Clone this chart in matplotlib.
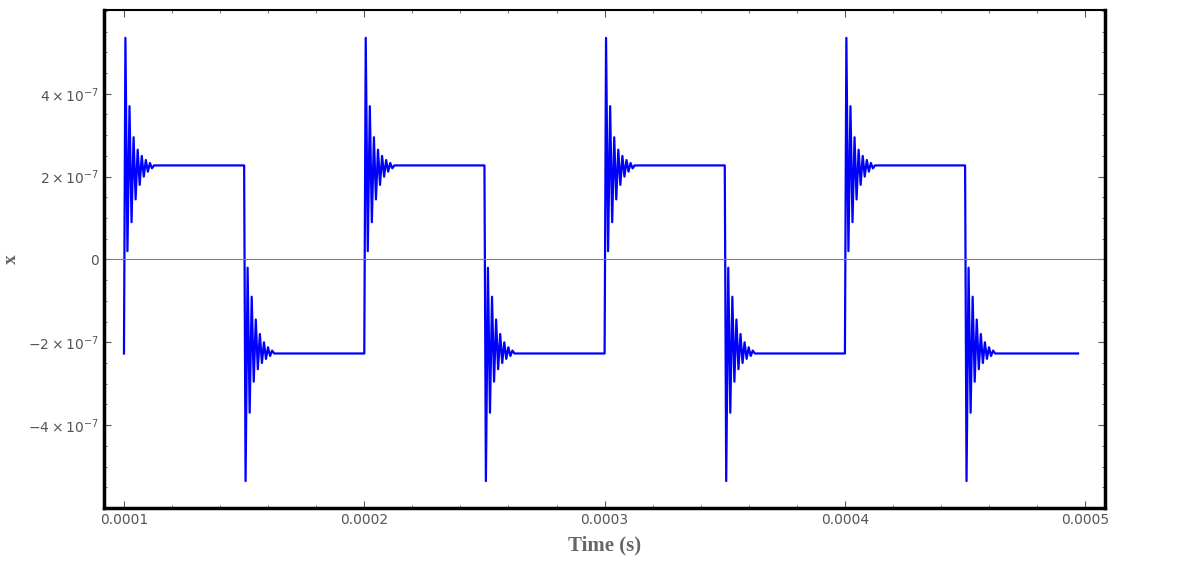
import numpy as np
import matplotlib.pyplot as plt
from matplotlib.ticker import FixedLocator, MultipleLocator

# switching instants (s) and steady level
up_times = [0.0001, 0.0002, 0.0003, 0.0004]
down_times = [0.00015, 0.00025, 0.00035, 0.00045]
level = 2.27e-7
t_end = 0.000497

# ringing peaks after an upward switch (units of 1e-7)
ring_peaks = [5.35, 0.2, 3.7, 0.9, 2.95, 1.45, 2.65, 1.8, 2.5, 2.0, 2.4, 2.12, 2.33, 2.2, 2.27]
half_period = 0.85e-6
rise = 0.6e-6

t, x = [], []
t.append(0.0001); x.append(-level)
events = sorted([(tt, 1) for tt in up_times] + [(tt, -1) for tt in down_times])
for tt, sgn in events:
    if t[-1] < tt:
        t.append(tt); x.append(-sgn * level)
    for i, p in enumerate(ring_peaks):
        t.append(tt + rise + i * half_period)
        x.append(sgn * p * 1e-7)
t.append(t_end); x.append(-level)

fig = plt.figure(figsize=(11.97, 5.61), dpi=100)
ax = fig.add_axes([0.0869, 0.0945, 0.8364, 0.8875])
ax.plot(t, x, color='#0000ff', lw=1.6)
ax.axhline(0, color='gray', lw=0.8)
ax.set_xlim(0.0000917, 0.0005083)
ax.set_ylim(-6.0e-7, 6.02e-7)

ax.xaxis.set_major_locator(FixedLocator([0.0001, 0.0002, 0.0003, 0.0004, 0.0005]))
ax.set_xticklabels(['0.0001', '0.0002', '0.0003', '0.0004', '0.0005'])
ax.xaxis.set_minor_locator(MultipleLocator(0.00002))
ax.yaxis.set_major_locator(FixedLocator([-4e-7, -2e-7, 0, 2e-7, 4e-7]))
ax.set_yticklabels([r'$-4\times10^{-7}$', r'$-2\times10^{-7}$', '0',
                    r'$2\times10^{-7}$', r'$4\times10^{-7}$'])
ax.yaxis.set_minor_locator(MultipleLocator(0.5e-7))
ax.tick_params(which='both', direction='in', colors='#555555', labelsize=10,
               top=True, right=True)
ax.tick_params(which='major', length=5)
ax.tick_params(which='minor', length=2.5)
for side in ['left', 'bottom', 'top', 'right']:
    ax.spines[side].set_color('black')
ax.spines['left'].set_linewidth(2.5)
ax.spines['bottom'].set_linewidth(2.5)
ax.spines['top'].set_linewidth(1.5)
ax.spines['right'].set_linewidth(2.5)

ax.set_xlabel('Time (s)', family='Liberation Serif', fontweight='bold',
              fontsize=15, color='#666666', labelpad=6)
ax.set_ylabel('x', family='Liberation Serif', fontweight='bold',
              fontsize=14, color='#666666', labelpad=6)

fig.savefig('out.png')
